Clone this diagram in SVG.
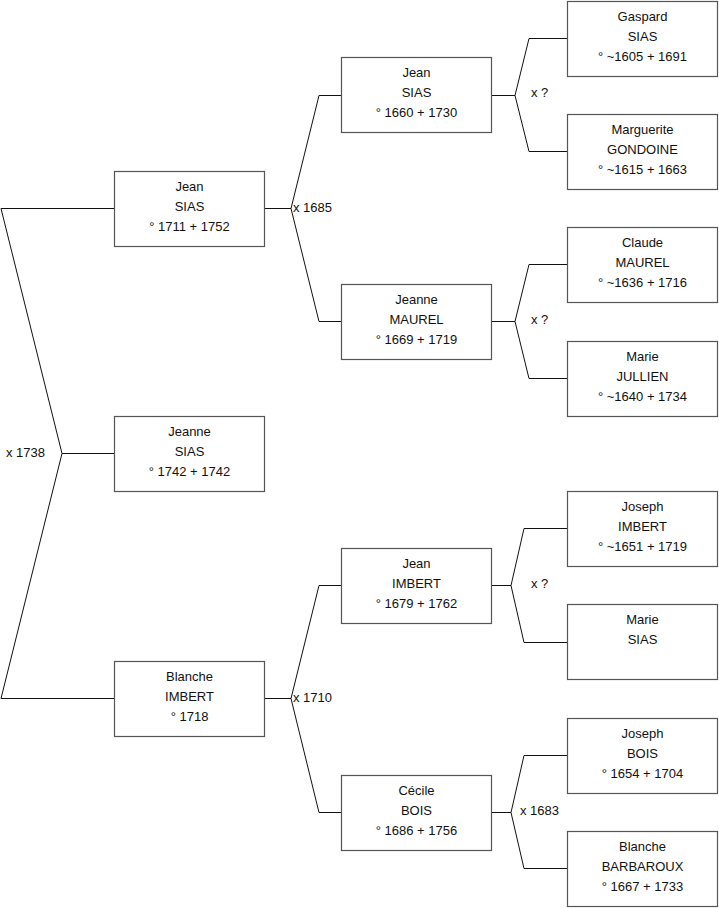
<svg xmlns="http://www.w3.org/2000/svg" width="719" height="908" viewBox="0 0 719 908">
<style>
.box{fill:#fff;stroke:#555;stroke-width:1.2}
.t{font-family:"Liberation Sans",Arial,sans-serif;font-size:13px;fill:#111;text-anchor:middle}
.l{font-family:"Liberation Sans",Arial,sans-serif;font-size:13px;fill:#111}
.c{fill:none;stroke:#111;stroke-width:1}
</style>
<rect width="719" height="908" fill="#fff"/>
<g id="connectors">
<path class="c" d="M1 208.5H114.5M1 208.5L62 453.5L1 698.5M62 453.5H114.5M1 698.5H114.5"/>
<path class="c" d="M265 208.5H291M341 95.5H319L291 208.5L319 321.5H341"/>
<path class="c" d="M265 698.5H291M341 585.5H319L291 698.5L319 812.5H341"/>
<path class="c" d="M491 95.5H515M567 38.5H529L515 95.5L529 151.5H567"/>
<path class="c" d="M491 321.5H515M567 264.5H529L515 321.5L529 378.5H567"/>
<path class="c" d="M491 585.5H511M567 528.5H524L511 585.5L524 642.5H567"/>
<path class="c" d="M491 812.5H511M567 755.5H524L511 812.5L524 868.5H567"/>
<text class="l" x="6" y="457">x 1738</text>
<text class="l" x="293" y="211.5">x 1685</text>
<text class="l" x="293" y="701.5">x 1710</text>
<text class="l" x="531" y="97">x ?</text>
<text class="l" x="531" y="324">x ?</text>
<text class="l" x="531" y="588">x ?</text>
<text class="l" x="520" y="814.5">x 1683</text>
</g>
<g id="n_jean_sias_1711"><rect class="box" x="114.5" y="171.5" width="150" height="75"/><text class="t" x="189.5" y="191">Jean</text><text class="t" x="189.5" y="211">SIAS</text><text class="t" x="189.5" y="231">° 1711 + 1752</text></g>
<g id="n_jeanne_sias"><rect class="box" x="114.5" y="416.5" width="150" height="75"/><text class="t" x="189.5" y="436">Jeanne</text><text class="t" x="189.5" y="456">SIAS</text><text class="t" x="189.5" y="476">° 1742 + 1742</text></g>
<g id="n_blanche_imbert"><rect class="box" x="114.5" y="661.5" width="150" height="75"/><text class="t" x="189.5" y="681">Blanche</text><text class="t" x="189.5" y="701">IMBERT</text><text class="t" x="189.5" y="721">° 1718</text></g>
<g id="n_jean_sias_1660"><rect class="box" x="341.5" y="57.5" width="150" height="75"/><text class="t" x="416.5" y="77">Jean</text><text class="t" x="416.5" y="97">SIAS</text><text class="t" x="416.5" y="117">° 1660 + 1730</text></g>
<g id="n_jeanne_maurel"><rect class="box" x="341.5" y="284.5" width="150" height="75"/><text class="t" x="416.5" y="304">Jeanne</text><text class="t" x="416.5" y="324">MAUREL</text><text class="t" x="416.5" y="344">° 1669 + 1719</text></g>
<g id="n_jean_imbert"><rect class="box" x="341.5" y="548.5" width="150" height="75"/><text class="t" x="416.5" y="568">Jean</text><text class="t" x="416.5" y="588">IMBERT</text><text class="t" x="416.5" y="608">° 1679 + 1762</text></g>
<g id="n_cecile_bois"><rect class="box" x="341.5" y="775.5" width="150" height="75"/><text class="t" x="416.5" y="795">Cécile</text><text class="t" x="416.5" y="815">BOIS</text><text class="t" x="416.5" y="835">° 1686 + 1756</text></g>
<g id="n_gaspard_sias"><rect class="box" x="567.5" y="1.5" width="150" height="75"/><text class="t" x="642.5" y="21">Gaspard</text><text class="t" x="642.5" y="41">SIAS</text><text class="t" x="642.5" y="61">° ~1605 + 1691</text></g>
<g id="n_marguerite_gondoine"><rect class="box" x="567.5" y="114.5" width="150" height="75"/><text class="t" x="642.5" y="134">Marguerite</text><text class="t" x="642.5" y="154">GONDOINE</text><text class="t" x="642.5" y="174">° ~1615 + 1663</text></g>
<g id="n_claude_maurel"><rect class="box" x="567.5" y="227.5" width="150" height="75"/><text class="t" x="642.5" y="247">Claude</text><text class="t" x="642.5" y="267">MAUREL</text><text class="t" x="642.5" y="287">° ~1636 + 1716</text></g>
<g id="n_marie_jullien"><rect class="box" x="567.5" y="341.5" width="150" height="75"/><text class="t" x="642.5" y="361">Marie</text><text class="t" x="642.5" y="381">JULLIEN</text><text class="t" x="642.5" y="401">° ~1640 + 1734</text></g>
<g id="n_joseph_imbert"><rect class="box" x="567.5" y="491.5" width="150" height="75"/><text class="t" x="642.5" y="511">Joseph</text><text class="t" x="642.5" y="531">IMBERT</text><text class="t" x="642.5" y="551">° ~1651 + 1719</text></g>
<g id="n_marie_sias"><rect class="box" x="567.5" y="604.5" width="150" height="75"/><text class="t" x="642.5" y="624">Marie</text><text class="t" x="642.5" y="644">SIAS</text></g>
<g id="n_joseph_bois"><rect class="box" x="567.5" y="718.5" width="150" height="75"/><text class="t" x="642.5" y="738">Joseph</text><text class="t" x="642.5" y="758">BOIS</text><text class="t" x="642.5" y="778">° 1654 + 1704</text></g>
<g id="n_blanche_barbaroux"><rect class="box" x="567.5" y="831.5" width="150" height="75"/><text class="t" x="642.5" y="851">Blanche</text><text class="t" x="642.5" y="871">BARBAROUX</text><text class="t" x="642.5" y="891">° 1667 + 1733</text></g>
</svg>
